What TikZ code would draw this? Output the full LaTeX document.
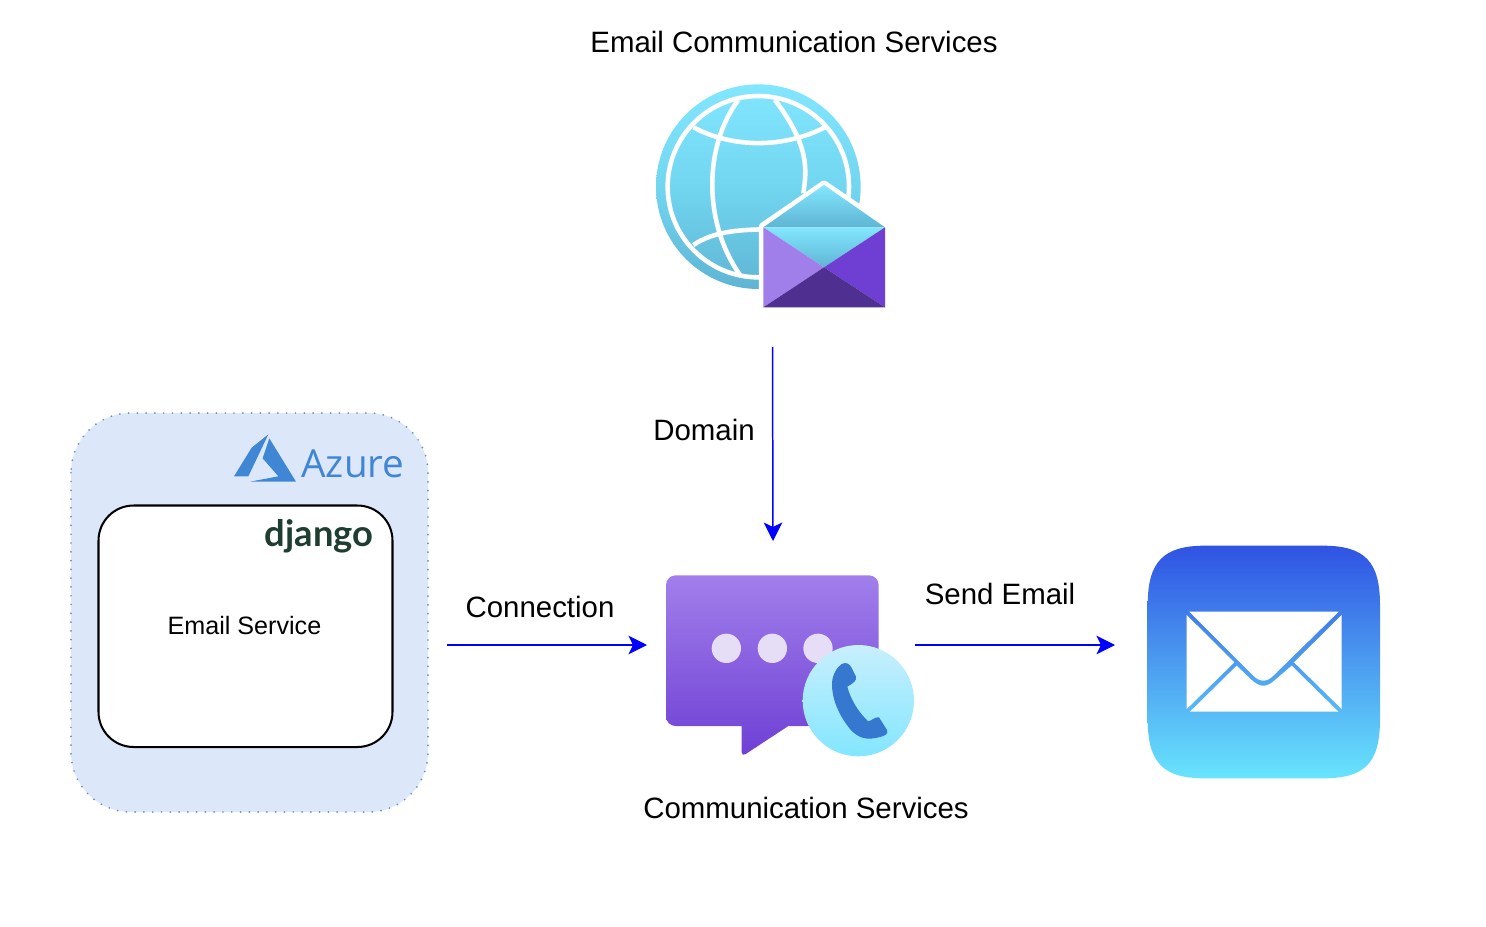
\documentclass[tikz,border=0pt]{standalone}
\usepackage{fontspec}
\setmainfont{Liberation Sans}
\newfontfamily\azurefont{Open Sans}
\newfontfamily\djangofont{Lato}
\usetikzlibrary{arrows.meta}
\definecolor{skyA}{HTML}{83E6FF}
\definecolor{skyM}{HTML}{72D6F0}
\definecolor{skyB}{HTML}{5EB5D3}
\definecolor{purA}{HTML}{A17FEB}
\definecolor{purB}{HTML}{6F3FD4}
\definecolor{purC}{HTML}{4F2F8F}
\definecolor{dotcol}{HTML}{E6DDF7}
\definecolor{ballA}{HTML}{C8EFFD}
\definecolor{phonecol}{HTML}{3677D0}
\definecolor{frameback}{HTML}{DDE7FA}
\definecolor{frameline}{HTML}{6C8EBF}
\definecolor{azurecol}{HTML}{3F87D5}
\definecolor{djangocol}{HTML}{1F3D30}
\definecolor{mailA}{HTML}{2F53E3}
\definecolor{mailB}{HTML}{68E4FD}
\tikzset{
  label/.style={inner sep=0pt,font=\fontsize{16.75}{20}\selectfont},
  link/.style={draw=blue,line width=0.85pt,-{Stealth[length=10.5pt,width=10.5pt,inset=2.5pt]}},
  gridline/.style={draw=white,line width=2.6pt},
}
\begin{document}
\begin{tikzpicture}[x=0.02cm,y=0.02cm]
\useasboundingbox (0,0) rectangle (1486,-926);
% azure frame
\fill [frameback,rounded corners=34pt] (71,-413) rectangle (428,-812);
\draw [frameline,line width=1.1pt,line cap=round,dash pattern=on 0pt off 5pt,rounded corners=34pt] (71,-413) rectangle (428,-812);
\begin{scope}[shift={(60,-405)},scale=1/3]
\fill [azurecol] (625,-88) -- (575,-128) -- (522,-214) -- (565,-214) -- cycle;
\fill [azurecol] (628,-100) -- (608,-160) -- (655,-214) -- (570,-230) -- (708,-230) -- cycle;
\end{scope}
\node (azure) [inner sep=0pt,text=azurecol,font=\azurefont\fontsize{22}{26}\selectfont] at (353,-464) {Azure};
\draw [black,fill=white,line width=1.15pt,rounded corners=20pt] (98.5,-505.5) rectangle (392.5,-747);
\node (django) [inner sep=0pt,text=djangocol,font=\djangofont\bfseries\fontsize{20.7}{26}\selectfont] at (319,-536) {django};
\node (service) [label,font=\fontsize{14.3}{18}\selectfont] at (244.5,-626) {Email Service};
% globe
\begin{scope}[shift={(640,-70)},scale=1/3]
\shade [top color=skyA,bottom color=skyB,middle color=skyM] (355,-350) circle (307);
\draw [gridline] (355,-350) circle (272);
\draw [gridline] (295,-90) .. controls (190,-230) and (190,-460) .. (300,-615);
\draw [gridline] (405,-90) .. controls (510,-230) and (500,-300) .. (490,-370);
\draw [gridline] (160,-172) .. controls (280,-235) and (430,-235) .. (555,-172);
\draw [gridline] (160,-525) .. controls (220,-485) and (290,-480) .. (370,-478);
% envelope
\draw [white,fill=white,line width=5pt,line join=round] (552,-345) -- (735,-470) -- (735,-712) -- (370,-712) -- (370,-470) -- cycle;
\shade [top color=skyA,bottom color=skyB] (552,-345) -- (735,-472) -- (370,-472) -- cycle;
\shade [top color=skyA,bottom color=skyB] (370,-472) -- (735,-472) -- (552,-592) -- cycle;
\fill [purA] (370,-472) -- (552,-592) -- (370,-712) -- cycle;
\fill [purB] (735,-472) -- (552,-592) -- (735,-712) -- cycle;
\fill [purC] (370,-712) -- (552,-592) -- (735,-712) -- cycle;
\end{scope}
\node (emailcs) [label] at (794,-42) {Email Communication Services};
% chat bubble
\begin{scope}[shift={(650,-560)},scale=1/3]
\shade [top color=purA,bottom color=purB] (275,-498) [rounded corners=5.5pt] -- (48,-498) -- (48,-46) -- (686,-46) -- (686,-498) [sharp corners] -- (415,-498) [rounded corners=2.5pt] -- (275,-590) [sharp corners] -- cycle;
\fill [dotcol] (229,-265) circle (44);
\fill [dotcol] (367,-265) circle (44);
\fill [dotcol] (504,-265) circle (44);
\shade [top color=ballA,bottom color=skyA] (625,-422) circle (167);
\fill [phonecol] (575,-312) .. controls (590,-305) and (598,-312) .. (604,-322) -- (618,-350) .. controls (620,-362) and (612,-368) .. (592,-380)
  .. controls (602,-420) and (628,-460) .. (655,-484) .. controls (665,-482) and (675,-470) .. (687,-472) -- (711,-510) .. controls (716,-522) and (705,-527) .. (690,-531)
  .. controls (650,-542) and (625,-535) .. (600,-507) .. controls (570,-470) and (545,-420) .. (546,-370) .. controls (547,-345) and (560,-322) .. (575,-312) -- cycle;
\end{scope}
\node (commcs) [label] at (806,-808) {Communication Services};
% mail icon
\begin{scope}[shift={(1135,-535)},scale=1/3]
\shade [top color=mailA,bottom color=mailB] (210,-32) -- (563,-32) .. controls (690,-32) and (735,-80) .. (735,-210) -- (735,-552) .. controls (735,-685) and (690,-730) .. (563,-730) -- (210,-730) .. controls (85,-730) and (38,-685) .. (38,-552) -- (38,-210) .. controls (38,-80) and (85,-32) .. (210,-32) -- cycle;
\fill [white] (163,-230) -- (611,-230) -- (415,-422) .. controls (395,-442) and (375,-442) .. (355,-422) -- cycle;
\fill [white] (155,-240) -- (298,-382) -- (155,-522) -- cycle;
\fill [white] (620,-240) -- (477,-382) -- (620,-522) -- cycle;
\fill [white] (165,-530) -- (305,-392) -- (350,-435) .. controls (375,-458) and (395,-458) .. (420,-435) -- (470,-392) -- (610,-530) -- cycle;
\end{scope}
% connectors
\coordinate (domainstart) at (772.5,-347);
\coordinate (domainend) at (773,-541);
\coordinate (connstart) at (447,-645);
\coordinate (connend) at (647,-645);
\coordinate (sendstart) at (915,-645);
\coordinate (sendend) at (1115,-645);
\draw [link] (domainstart) -- (domainend);
\draw [link] (connstart) -- (connend);
\draw [link] (sendstart) -- (sendend);
\node (domain) [label] at (704,-430) {Domain};
\node (connection) [label] at (540,-607) {Connection};
\node (send) [label] at (1000,-594) {Send Email};
\end{tikzpicture}
\end{document}
